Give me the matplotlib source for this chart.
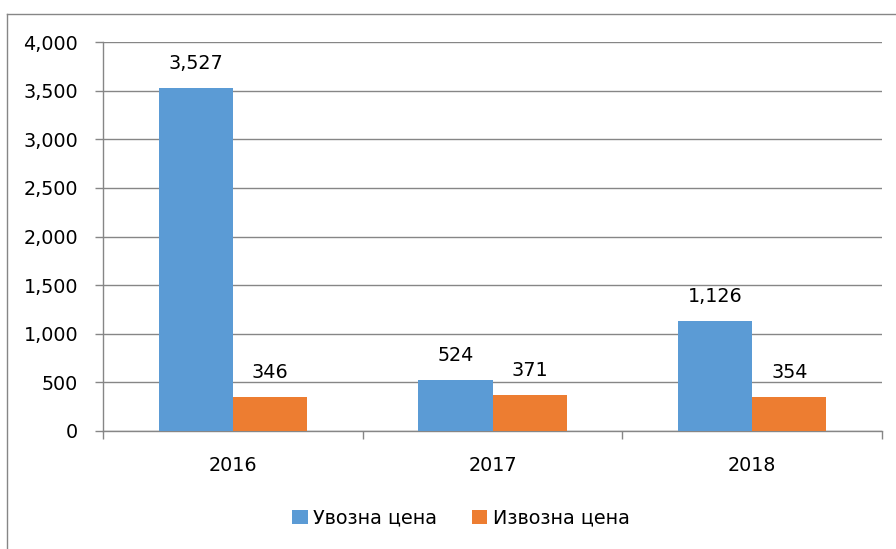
import matplotlib
matplotlib.use("Agg")
import matplotlib.pyplot as plt
import numpy as np
from matplotlib.lines import Line2D

years = ["2016", "2017", "2018"]
import_price = [3527, 524, 1126]
export_price = [346, 371, 354]
series_names = ["Увозна цена", "Извозна цена"]
yticks = [0, 500, 1000, 1500, 2000, 2500, 3000, 3500, 4000]

plt.rcParams['font.family'] = ['DejaVu Sans']
FS = 13.8
W, H = 896, 549
fig = plt.figure(figsize=(W / 100, H / 100), dpi=100)
ax = fig.add_axes([103 / W, 1 - 431 / H, (882 - 103) / W, (431 - 42) / H])

gray = "#868686"
blue = "#5B9BD5"
orange = "#ED7D31"

x = np.arange(len(years))
bw = 1 / 3.5
b1 = ax.bar(x - bw / 2, import_price, bw, color=blue, label=series_names[0], zorder=3)
b2 = ax.bar(x + bw / 2, export_price, bw, color=orange, label=series_names[1], zorder=3)

for bars, vals in ((b1, import_price), (b2, export_price)):
    for r, v in zip(bars, vals):
        ax.annotate(f"{v:,}", (r.get_x() + r.get_width() / 2, v),
                    xytext=(0, 13.7), textcoords="offset points",
                    ha="center", va="baseline", fontsize=FS, color="#000000")

ax.set_xlim(-0.5, len(years) - 0.5)
ax.set_ylim(0, 4000)
ax.set_yticks(yticks)
ax.set_yticklabels([f"{v:,}" for v in yticks])
ax.set_xticks(x)
ax.set_xticklabels(years)
ax.set_xticks(np.arange(-0.5, len(years)), minor=True)
ax.tick_params(axis="x", which="major", length=0, pad=18, labelsize=FS, colors="#000000")
ax.tick_params(axis="x", which="minor", length=6, width=1, color=gray, direction="out")
ax.tick_params(axis="y", length=6, width=1, color=gray, pad=12, labelsize=FS, labelcolor="#000000")
ax.yaxis.grid(True, color=gray, linewidth=1, zorder=0)
ax.set_axisbelow(True)
for s in ("top", "right"):
    ax.spines[s].set_visible(False)
for s in ("left", "bottom"):
    ax.spines[s].set_color(gray)
    ax.spines[s].set_linewidth(1)

fig.legend(handles=[b1, b2], labels=series_names, loc="center",
           bbox_to_anchor=(461 / W, 1 - 518 / H), ncol=2, frameon=False,
           fontsize=FS, handlelength=0.8, handleheight=0.7,
           handletextpad=0.3, columnspacing=1.8)

# outer chart border (only top and left edges visible in the crop)
fig.lines.append(Line2D([7 / W, 1.0], [1 - 14 / H, 1 - 14 / H],
                        transform=fig.transFigure, color=gray, linewidth=1))
fig.lines.append(Line2D([7 / W, 7 / W], [0.0, 1 - 14 / H],
                        transform=fig.transFigure, color=gray, linewidth=1))

fig.savefig("out.png", dpi=100)
